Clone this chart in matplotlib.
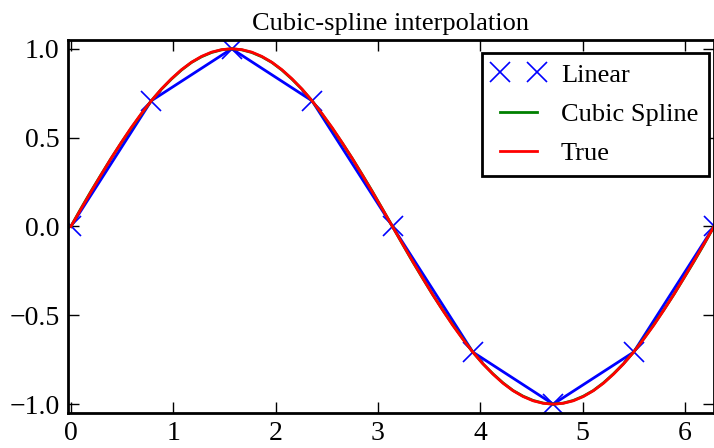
import matplotlib
matplotlib.use("Agg")
import matplotlib.pyplot as plt
import numpy as np

plt.rcParams['font.family'] = ['Liberation Serif', 'DejaVu Serif']

# knots used for the linear interpolation
x_knots = [0.0, 0.785, 1.571, 2.356, 3.142, 3.927, 4.712, 5.498, 6.283]
y_knots = [0.0, 0.707, 1.0, 0.707, 0.0, -0.707, -1.0, -0.707, 0.0]

# true curve values, read on a fine grid
y_true = [0.000, 0.098, 0.195, 0.290, 0.383, 0.471, 0.556, 0.634, 0.707,
          0.773, 0.831, 0.882, 0.924, 0.957, 0.981, 0.995, 1.000,
          0.995, 0.981, 0.957, 0.924, 0.882, 0.831, 0.773, 0.707,
          0.634, 0.556, 0.471, 0.383, 0.290, 0.195, 0.098, 0.000,
          -0.098, -0.195, -0.290, -0.383, -0.471, -0.556, -0.634, -0.707,
          -0.773, -0.831, -0.882, -0.924, -0.957, -0.981, -0.995, -1.000,
          -0.995, -0.981, -0.957, -0.924, -0.882, -0.831, -0.773, -0.707,
          -0.634, -0.556, -0.471, -0.383, -0.290, -0.195, -0.098, 0.000]

# cubic spline, almost on top of the true curve
y_spline = [0.000, 0.101, 0.198, 0.291, 0.383, 0.470, 0.553, 0.632, 0.707,
            0.772, 0.829, 0.880, 0.923, 0.955, 0.979, 0.994, 1.000,
            0.994, 0.979, 0.955, 0.923, 0.880, 0.829, 0.772, 0.707,
            0.632, 0.553, 0.470, 0.383, 0.291, 0.197, 0.099, 0.000,
            -0.099, -0.197, -0.291, -0.383, -0.470, -0.553, -0.632, -0.707,
            -0.772, -0.829, -0.880, -0.923, -0.955, -0.979, -0.994, -1.000,
            -0.994, -0.979, -0.955, -0.923, -0.880, -0.829, -0.772, -0.707,
            -0.632, -0.553, -0.470, -0.383, -0.291, -0.198, -0.101, 0.000]

x_fine = np.linspace(0, 6.283, len(y_true))

fig = plt.figure(figsize=(7.14, 4.48), dpi=100)
ax = fig.add_axes([0.095, 0.078, 0.905, 0.833])

ax.plot(x_knots, y_knots, 'x', color='blue', markersize=14, mew=1.2, label='Linear')
ax.plot(x_knots, y_knots, '-', color='blue', lw=2)
ax.plot(x_fine, y_spline, color='green', lw=2, label='Cubic Spline')
ax.plot(x_fine, y_true, color='red', lw=2, label='True')

ax.set_xlim(-0.03, 6.283)
ax.set_ylim(-1.05, 1.05)
ax.set_xticks([0, 1, 2, 3, 4, 5, 6])
ax.set_yticks([-1.0, -0.5, 0.0, 0.5, 1.0])
ax.set_yticklabels(['\u22121.0', '\u22120.5', '0.0', '0.5', '1.0'])
ax.tick_params(direction='in', top=True, right=True, length=8, width=1,
               labelsize=20, pad=6)
for s in ax.spines.values():
    s.set_linewidth(2)

ax.set_title('Cubic-spline interpolation', fontsize=19, pad=7)
leg = ax.legend(loc='upper right', bbox_to_anchor=(1.0, 0.98), numpoints=2,
                fontsize=19, fancybox=False, framealpha=1, edgecolor='black',
                borderaxespad=0.2, handlelength=2.0, handletextpad=0.6,
                borderpad=0.4, labelspacing=0.6)
leg.get_frame().set_linewidth(2)

fig.savefig('out.png', dpi=100)
